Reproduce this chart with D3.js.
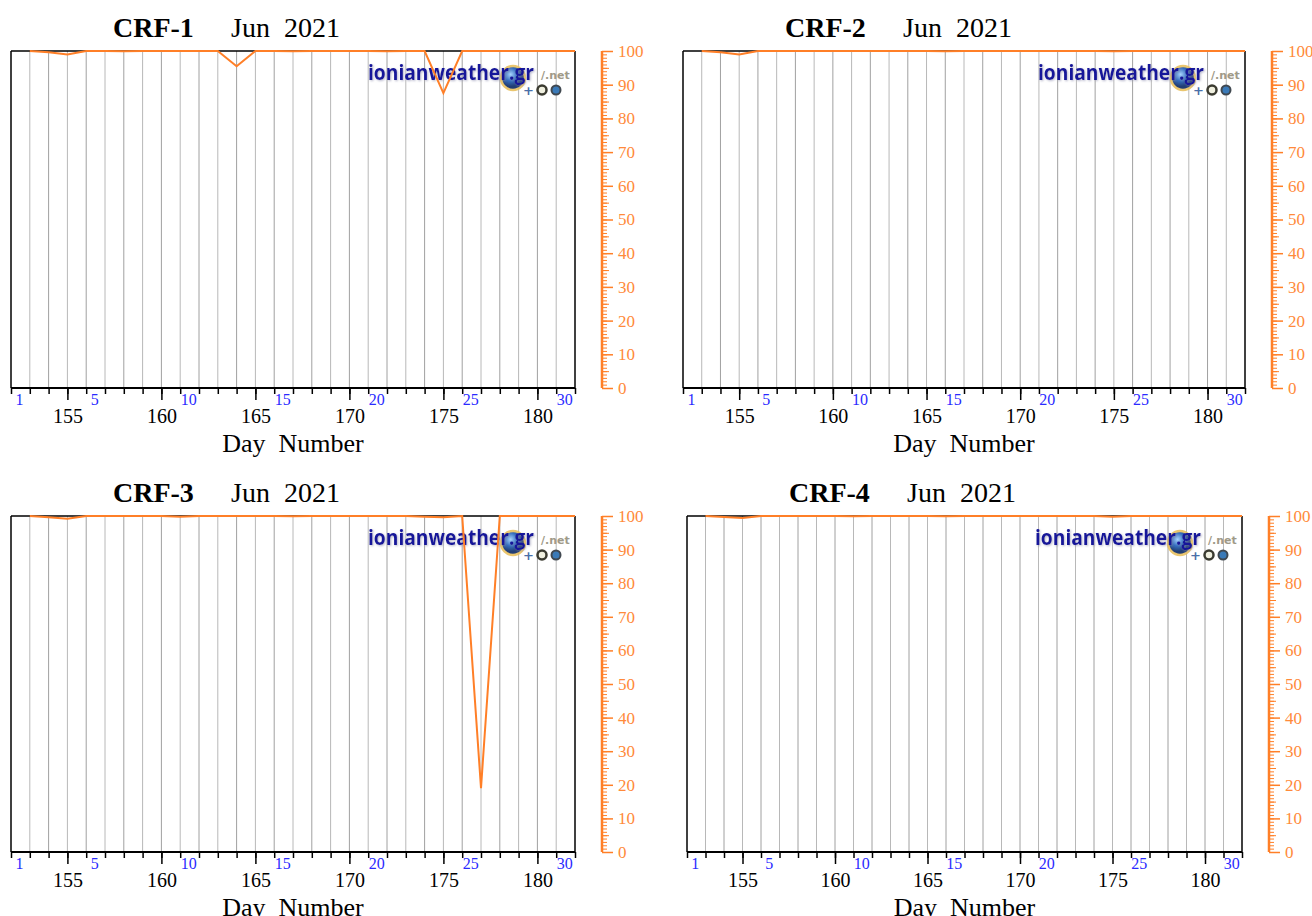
<!DOCTYPE html>
<html>
<head>
<meta charset="utf-8">
<script src="https://cdn.jsdelivr.net/npm/d3@7"></script>
<style>
  body { margin: 0; background: #fff; }
  svg { display: block; }
</style>
</head>
<body>
<svg id="chart" width="1312" height="916"></svg>
<script>
// day numbers (day of year) of the daily points, June 2021
var days = [153, 154, 155, 156, 157, 158, 159, 160, 161, 162, 163, 164, 165, 166, 167,
  168, 169, 170, 171, 172, 173, 174, 175, 176, 177, 178, 179, 180, 181, 182]

var crf1 = [100, 99.6, 99, 100, 100, 99.9, 100, 100, 100, 100, 100, 95.5, 100, 100, 99.9,
  100, 100, 100, 100, 99.9, 100, 100, 87.5, 100, 100, 100, 100, 100, 100, 100]
var crf2 = [100, 99.6, 99, 100, 100, 100, 100, 100, 100, 100, 100, 100, 100, 99.9, 100,
  100, 100, 100, 100, 100, 100, 100, 99.9, 100, 100, 100, 100, 100, 100, 100]
var crf3 = [100, 99.6, 99.2, 100, 100, 100, 100, 100, 99.8, 100, 100, 100, 100, 100, 99.9,
  100, 100, 100, 100, 100, 100, 99.8, 99.6, 100, 19, 100, 100, 100, 100, 100]
var crf4 = [100, 99.7, 99.4, 100, 100, 100, 100, 100, 99.9, 100, 100, 100, 100, 99.9, 100,
  100, 100, 100, 100, 100, 100, 100, 99.8, 100, 100, 100, 100, 100, 100, 100]

var dayTicks = [155, 160, 165, 170, 175, 180]
var monthDays = [1, 5, 10, 15, 20, 25, 30]
var titles = ["CRF-1", "CRF-2", "CRF-3", "CRF-4"]
var subtitle = "Jun\u00a0\u00a02021"
var xLabel = "Day\u00a0\u00a0Number"

var orange = "#ff7f27"
var serif = "'Liberation Serif', 'DejaVu Serif', serif"

var panels = [
  { title: titles[0], values: crf1, left: 11, right: 575, top: 51, bottom: 388 },
  { title: titles[1], values: crf2, left: 683, right: 1245, top: 51, bottom: 388 },
  { title: titles[2], values: crf3, left: 11, right: 575, top: 516, bottom: 852 },
  { title: titles[3], values: crf4, left: 687, right: 1242, top: 516, bottom: 852 }
]

var svg = d3.select("#chart")
var defs = svg.append("defs")
var grad = defs.append("radialGradient").attr("id", "globe").attr("cx", "40%").attr("cy", "35%")
grad.append("stop").attr("offset", "0%").attr("stop-color", "#9fd0ff")
grad.append("stop").attr("offset", "55%").attr("stop-color", "#1f5fb8")
grad.append("stop").attr("offset", "100%").attr("stop-color", "#0b2a66")
defs.append("filter").attr("id", "shadow")
  .append("feDropShadow")
  .attr("dx", 1).attr("dy", 1).attr("stdDeviation", 1)
  .attr("flood-color", "#8888aa").attr("flood-opacity", 0.6)

function drawPanel(p) {
  var g = svg.append("g")
  var x = d3.scaleLinear().domain([152, 182]).range([p.left, p.right])
  var y = d3.scaleLinear().domain([0, 100]).range([p.bottom, p.top])

  // titles
  g.append("text")
    .attr("x", p.left + 102)
    .attr("y", p.top - 14)
    .attr("font-family", serif)
    .attr("font-weight", "bold")
    .attr("font-size", "28px")
    .text(p.title)
  g.append("text")
    .attr("x", p.left + 220)
    .attr("y", p.top - 14)
    .attr("font-family", serif)
    .attr("font-size", "28px")
    .text(subtitle)

  // day grid lines
  g.append("g")
    .selectAll("line")
    .data(d3.range(153, 182))
    .enter()
    .append("line")
    .attr("x1", function(d) { return x(d) })
    .attr("x2", function(d) { return x(d) })
    .attr("y1", p.top)
    .attr("y2", p.bottom)
    .attr("stroke", function(d) { return d % 2 ? "#b8b8b8" : "#a0a0a0" })
    .attr("stroke-width", 1)

  // logo (globe sits behind the lettering)
  var logo = g.append("g")
    .attr("transform", "translate(" + (p.right - 39) + "," + (p.top + 29) + ")")
  logo.append("circle")
    .attr("cx", -23).attr("cy", -2).attr("r", 12)
    .attr("fill", "url(#globe)")
    .attr("stroke", "#e8c060")
    .attr("stroke-width", 2.5)
    .attr("opacity", 0.9)
  logo.append("text")
    .attr("x", -168)
    .attr("y", 0)
    .attr("textLength", 166)
    .attr("lengthAdjust", "spacingAndGlyphs")
    .attr("font-family", "'Open Sans', 'DejaVu Sans', sans-serif")
    .attr("font-weight", "bold")
    .attr("font-size", "22px")
    .attr("fill", "#16169a")
    .attr("filter", "url(#shadow)")
    .text("ionianweather.gr")
  logo.append("text")
    .attr("x", 5).attr("y", -1)
    .attr("font-family", "'DejaVu Sans', sans-serif")
    .attr("font-size", "11px")
    .attr("font-weight", "bold")
    .attr("fill", "#a09a88")
    .text("/.net")
  logo.append("text")
    .attr("x", -13).attr("y", 15)
    .attr("font-family", "'DejaVu Sans', sans-serif")
    .attr("font-size", "13px")
    .attr("font-weight", "bold")
    .attr("fill", "#4a6fa8")
    .text("+")
  logo.append("circle")
    .attr("cx", 6).attr("cy", 10).attr("r", 4.5)
    .attr("fill", "#f0f0e0").attr("stroke", "#3a3a30").attr("stroke-width", 2.5)
  logo.append("circle")
    .attr("cx", 20).attr("cy", 10).attr("r", 4.5)
    .attr("fill", "#3a7ab8").attr("stroke", "#404850").attr("stroke-width", 2)

  // frame
  g.append("line")
    .attr("x1", p.left).attr("x2", p.right)
    .attr("y1", p.top).attr("y2", p.top)
    .attr("stroke", "#000").attr("stroke-width", 1.5)
  g.append("line")
    .attr("x1", p.left).attr("x2", p.left)
    .attr("y1", p.top).attr("y2", p.bottom)
    .attr("stroke", "#000").attr("stroke-width", 1.5)
  g.append("line")
    .attr("x1", p.right).attr("x2", p.right)
    .attr("y1", p.top).attr("y2", p.bottom)
    .attr("stroke", "#000").attr("stroke-width", 1.5)

  // bottom axis: daily minor ticks, then labelled ticks
  var minorAxis = g.append("g")
    .attr("transform", "translate(0," + p.bottom + ")")
    .call(d3.axisBottom(x).tickValues(d3.range(152, 183)).tickSize(6).tickFormat(""))
  minorAxis.select(".domain").remove()
  var majorAxis = g.append("g")
    .attr("transform", "translate(0," + p.bottom + ")")
    .call(d3.axisBottom(x).tickValues(dayTicks).tickSize(12).tickPadding(9))
  majorAxis.select(".domain").remove()
  majorAxis.selectAll("text")
    .attr("font-family", serif)
    .attr("font-size", "20px")
    .attr("fill", "#000")
  g.selectAll(".tick line").attr("stroke", "#000").attr("stroke-width", 1.5)
  g.append("line")
    .attr("x1", p.left).attr("x2", p.right)
    .attr("y1", p.bottom).attr("y2", p.bottom)
    .attr("stroke", "#000").attr("stroke-width", 2)

  // day of month labels
  g.append("g")
    .selectAll("text")
    .data(monthDays)
    .enter()
    .append("text")
    .attr("x", function(d) { return x(151 + d + 0.45) })
    .attr("y", p.bottom + 17)
    .attr("text-anchor", "middle")
    .attr("font-family", serif)
    .attr("font-size", "16px")
    .attr("fill", "#2a2aff")
    .text(function(d) { return d })

  g.append("text")
    .attr("x", (p.left + p.right) / 2)
    .attr("y", p.bottom + 64)
    .attr("text-anchor", "middle")
    .attr("font-family", serif)
    .attr("font-size", "26px")
    .text(xLabel)

  // right orange axis
  var ax = p.right + 27
  var minorY = g.append("g")
    .attr("transform", "translate(" + ax + ",0)")
    .call(d3.axisRight(y).tickValues(d3.range(0, 101)).tickSize(5).tickFormat(""))
  var midY = g.append("g")
    .attr("transform", "translate(" + ax + ",0)")
    .call(d3.axisRight(y).tickValues(d3.range(5, 100, 10)).tickSize(7).tickFormat(""))
  var majorY = g.append("g")
    .attr("transform", "translate(" + ax + ",0)")
    .call(d3.axisRight(y).tickValues(d3.range(0, 101, 10)).tickSize(11).tickPadding(5))
  ;[minorY, midY, majorY].forEach(function(a) {
    a.select(".domain").remove()
    a.selectAll("line").attr("stroke", orange).attr("stroke-width", 1)
  })
  majorY.selectAll("line").attr("stroke-width", 1.5)
  majorY.selectAll("text")
    .attr("font-family", serif)
    .attr("font-size", "17px")
    .attr("fill", "#ff8a3a")
  g.append("line")
    .attr("x1", ax).attr("x2", ax)
    .attr("y1", p.top).attr("y2", p.bottom)
    .attr("stroke", orange).attr("stroke-width", 2.5)

  // data line
  var line = d3.line()
    .x(function(d, i) { return x(days[i]) })
    .y(function(d) { return y(d) })
  g.append("path")
    .datum(p.values)
    .attr("d", line)
    .attr("fill", "none")
    .attr("stroke", orange)
    .attr("stroke-width", 2)
    .attr("stroke-linejoin", "miter")
}

panels.forEach(drawPanel)
</script>
</body>
</html>
